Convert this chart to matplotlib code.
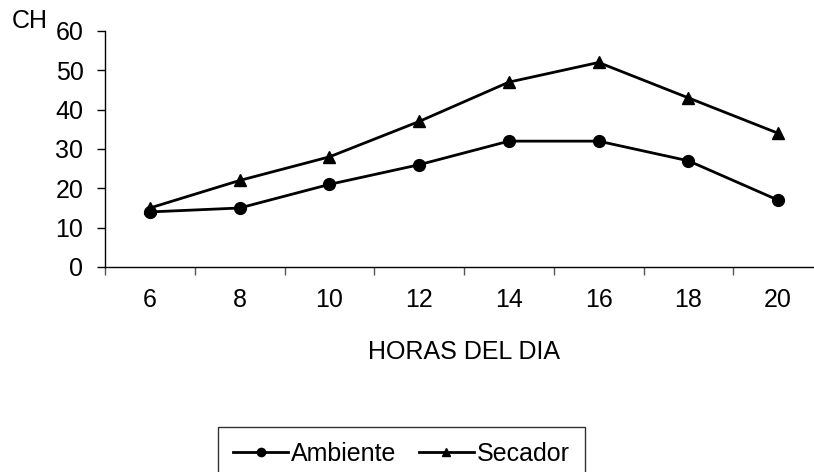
import numpy as np
import matplotlib
matplotlib.use("Agg")
import matplotlib.pyplot as plt

horas = ["6", "8", "10", "12", "14", "16", "18", "20"]
ambiente = [14, 15, 21, 26, 32, 32, 27, 17]
secador = [15, 22, 28, 37, 47, 52, 43, 34]

plt.rcParams['font.family'] = ['Liberation Sans', 'DejaVu Sans']
fs = 18

fig = plt.figure(figsize=(8.14, 4.72), dpi=100)
ax = fig.add_axes([105 / 814, 205 / 472, 718 / 814, 236 / 472])

x = np.arange(len(horas))
ax.plot(x, ambiente, color='black', lw=2, marker='o', ms=8.5, label='Ambiente')
ax.plot(x, secador, color='black', lw=2, marker='^', ms=8.5, label='Secador')

ax.set_xlim(-0.5, len(horas) - 0.5)
ax.set_ylim(0, 60)
ax.set_yticks(range(0, 61, 10))
ax.tick_params(axis='y', labelsize=fs, length=5.5, width=1, pad=10)

# category labels centred, tick marks on the category boundaries
ax.set_xticks(x)
ax.set_xticklabels(horas)
ax.set_xticks(np.arange(-0.5, len(horas), 1), minor=True)
ax.tick_params(axis='x', which='major', length=0, labelsize=fs, pad=15)
ax.tick_params(axis='x', which='minor', length=5.5, width=1, color='#555555')

for s in ['top', 'right']:
    ax.spines[s].set_visible(False)
for s in ['left', 'bottom']:
    ax.spines[s].set_linewidth(1)

ax.set_xlabel('HORAS DEL DIA', fontsize=fs, labelpad=20)
fig.text(12 / 814, 1 - 21 / 472, 'CH', fontsize=fs, va='center', ha='left')

leg = fig.legend(loc='upper left', bbox_to_anchor=(218 / 814, 1 - 427 / 472),
                 borderaxespad=0, ncol=2, fontsize=fs, frameon=True,
                 fancybox=False, edgecolor='black', handlelength=2.2,
                 handletextpad=0.12, columnspacing=0.9, borderpad=0.6,
                 markerscale=0.7)
leg.get_frame().set_linewidth(1)

fig.savefig('out.png', dpi=100)
